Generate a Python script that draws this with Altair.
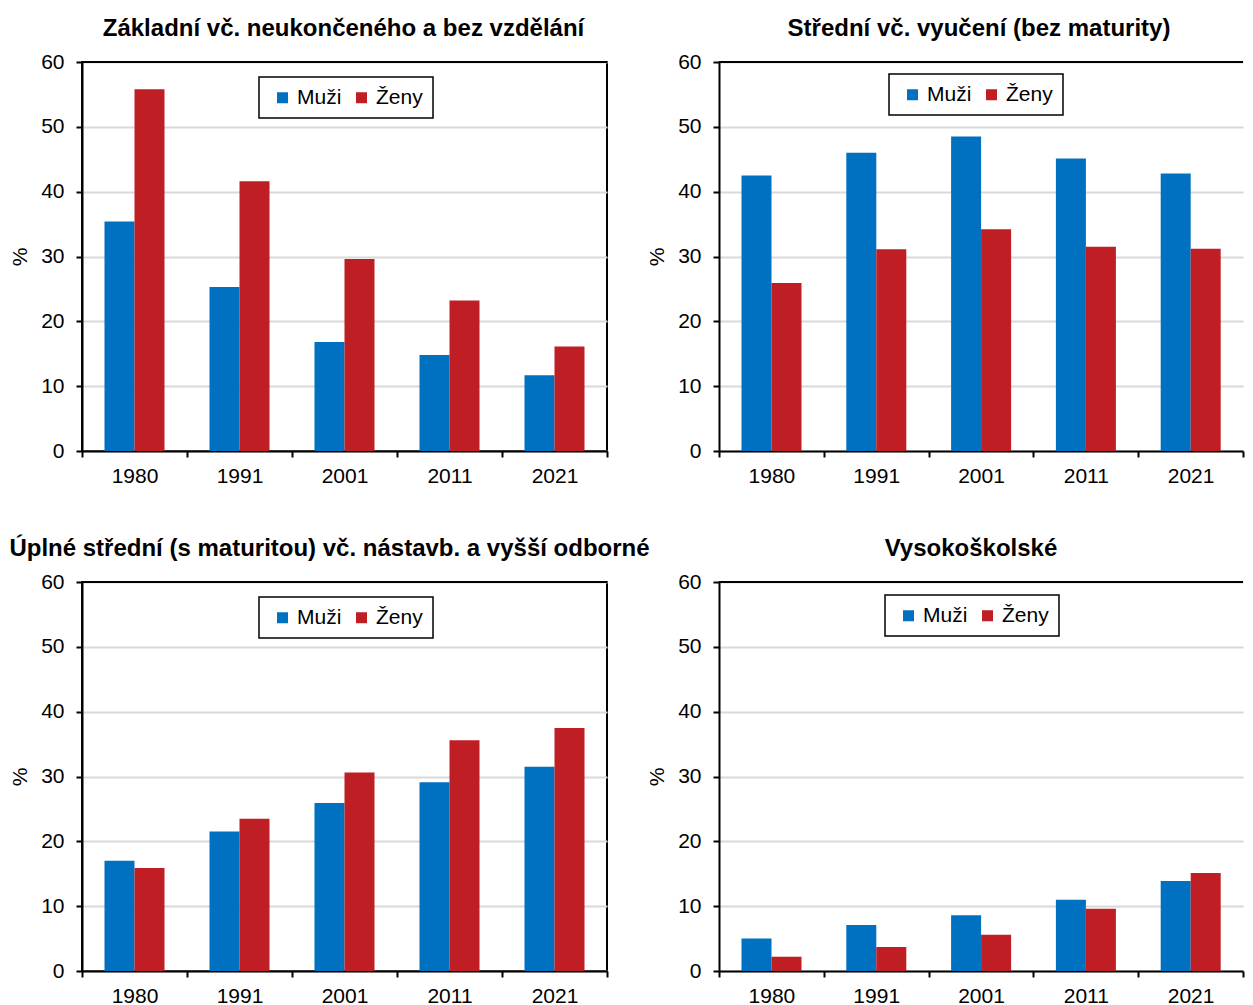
import altair as alt
import pandas as pd

# ---- data -------------------------------------------------------------
years = ["1980", "1991", "2001", "2011", "2021"]
sexes = ["Muži", "Ženy"]

title_zakladni = "Základní vč. neukončeného a bez vzdělání"
title_stredni = "Střední vč. vyučení (bez maturity)"
title_uplne = "Úplné střední (s maturitou) vč. nástavb. a vyšší odborné"
title_vs = "Vysokoškolské"

muzi_zakladni = [35.4, 25.3, 16.8, 14.8, 11.7]
zeny_zakladni = [55.8, 41.6, 29.6, 23.2, 16.1]

muzi_stredni = [42.5, 46.0, 48.5, 45.1, 42.8]
zeny_stredni = [25.9, 31.1, 34.2, 31.5, 31.2]

muzi_uplne = [17.0, 21.5, 25.9, 29.1, 31.5]
zeny_uplne = [15.9, 23.5, 30.6, 35.6, 37.5]

muzi_vs = [5.0, 7.1, 8.6, 11.0, 13.9]
zeny_vs = [2.2, 3.7, 5.6, 9.6, 15.1]

y_ticks = [0, 10, 20, 30, 40, 50, 60]

# ---- style ------------------------------------------------------------
FONT = "Liberation Sans"
BLUE = "#0070c0"
RED = "#be1e24"


def panel(title, muzi, zeny, width, dx, lx, ly, right_border=True):
    df = pd.DataFrame({
        "rok": years + years,
        "pohlavi": [sexes[0]] * len(years) + [sexes[1]] * len(years),
        "hodnota": muzi + zeny,
    })
    bars = alt.Chart(df).mark_bar().encode(
        x=alt.X(
            "rok:N", sort=years,
            scale=alt.Scale(paddingInner=0, paddingOuter=0),
            axis=alt.Axis(title=None, tickBand="extent", labelAngle=0,
                          labelPadding=8, grid=False),
        ),
        xOffset=alt.XOffset(
            "pohlavi:N", sort=sexes,
            scale=alt.Scale(paddingInner=0, paddingOuter=0.75),
        ),
        y=alt.Y(
            "hodnota:Q",
            scale=alt.Scale(domain=[0, 60], nice=False),
            axis=alt.Axis(title="%", values=y_ticks, grid=True,
                          labelPadding=12, titlePadding=10),
        ),
        color=alt.Color(
            "pohlavi:N", sort=sexes,
            scale=alt.Scale(domain=sexes, range=[BLUE, RED]),
            legend=alt.Legend(
                title=None, orient="none", legendX=lx, legendY=ly,
                direction="horizontal", symbolType="square", symbolSize=121,
                symbolStrokeWidth=0, symbolOffset=3, labelOffset=4,
                columnPadding=6, labelFontSize=21, labelFont=FONT,
                labelColor="black", strokeColor="black", fillColor="white",
                padding=10,
            ),
        ),
    )
    top_line = alt.Chart(pd.DataFrame({"k": [0]})).mark_rule(
        color="black", strokeWidth=2
    ).encode(y=alt.value(0))
    stroke = "black" if right_border else "transparent"
    return alt.layer(bars, top_line).properties(
        width=width, height=389,
        title=alt.TitleParams(
            title, fontSize=24, fontWeight="bold", font=FONT, color="black",
            anchor="middle", frame="group", dx=dx, offset=10,
        ),
        view=alt.ViewBackground(stroke=stroke, strokeWidth=2),
    )


tl = panel(title_zakladni, muzi_zakladni, zeny_zakladni, 525, -1, 177, 15)
tr = panel(title_stredni, muzi_stredni, zeny_stredni, 524, -2, 170, 12,
           right_border=False)
bl = panel(title_uplne, muzi_uplne, zeny_uplne, 525, -15, 177, 15)
br = panel(title_vs, muzi_vs, zeny_vs, 524, -10, 166, 13, right_border=False)

chart = alt.concat(
    tl, tr, bl, br,
    columns=2,
    bounds="flush",
    spacing={"row": 131, "column": 112},
).resolve_scale(
    color="independent",
).resolve_legend(
    color="independent",
).properties(
    padding={"left": 0, "top": 8, "right": 0, "bottom": 0},
).configure_axis(
    domainColor="black", domainWidth=2,
    tickColor="black", tickWidth=2, tickSize=6,
    labelFont=FONT, labelFontSize=21, labelColor="black",
    titleFont=FONT, titleFontSize=21, titleFontWeight="normal", titleColor="black",
    gridColor="#d9d9d9", gridWidth=2,
).configure_legend(
    strokeWidth=1.5,
)

chart.save("out.html", embed_options={"renderer": "svg", "actions": False})
